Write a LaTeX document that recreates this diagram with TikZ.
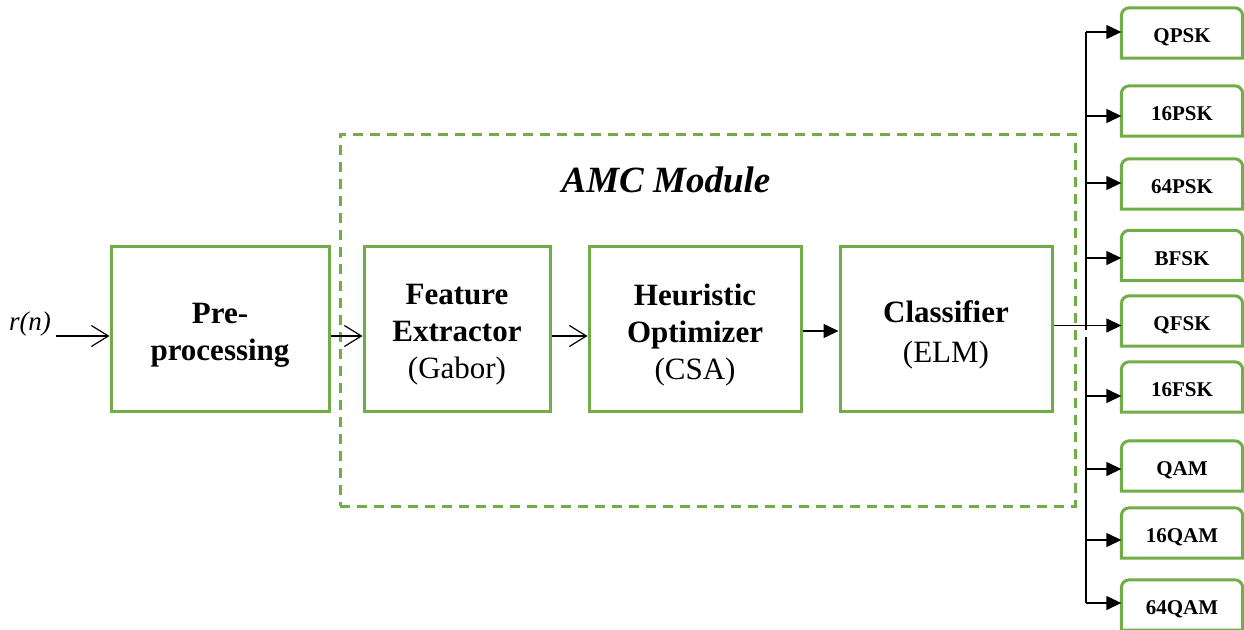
\documentclass[tikz,border=0pt]{standalone}
\usepackage{fontspec}
\setmainfont{Liberation Serif}
\usetikzlibrary{arrows.meta}
\definecolor{boxgreen}{RGB}{112,173,71}
\tikzset{
  blockbox/.style={draw=boxgreen, line width=3pt, inner sep=0pt, minimum height=165pt},
  blocktext/.style={inner sep=0pt, align=center, font=\fontsize{31}{37}\selectfont},
  outlabel/.style={inner sep=0pt, minimum width=121pt, minimum height=50pt,
    text height=19pt, text depth=0pt,
    font=\fontsize{21}{24}\selectfont\bfseries},
  tabline/.style={draw=boxgreen, line width=3pt},
  modframe/.style={draw=boxgreen, line width=3pt, dash pattern=on 10pt off 7pt},
  openarrow/.style={line width=1.2pt, -{Straight Barb[length=17pt,width=21pt,line width=1.2pt]}},
  solidarrow/.style={line width=1.4pt, -{Triangle[length=15pt,width=14pt]}},
  busline/.style={line width=1.4pt}
}
\begin{document}
\begin{tikzpicture}[x=1pt,y=-1pt]
\useasboundingbox (0,0) rectangle (1244,629);

% AMC module frame and title
\node[modframe, minimum width=735pt, minimum height=372pt, inner sep=0pt] (amc) at (707.5,320) {};
\node[font=\fontsize{37}{40}\selectfont\bfseries\itshape] (amctitle) at (666,180) {AMC Module};

% processing chain: frames
\node[blockbox, minimum width=218pt] (pre) at (220,328.5) {};
\node[blockbox, minimum width=186pt] (fe) at (457,328.5) {};
\node[blockbox, minimum width=212pt] (ho) at (695,328.5) {};
\node[blockbox, minimum width=212pt] (cls) at (946,328.5) {};
% processing chain: captions
\node[blocktext] (pretext) at ([yshift=-6.5pt]pre.center) {\bfseries Pre-\\\bfseries processing};
\node[blocktext] (fetext) at ([yshift=-6.5pt]fe.center) {\bfseries Feature\\\bfseries Extractor\\(Gabor)};
\node[blocktext] (hotext) at ([yshift=-6.5pt]ho.center) {\bfseries Heuristic\\\bfseries Optimizer\\(CSA)};
\node[blocktext] (clstext) at ([yshift=-6.5pt]cls.center) {\bfseries Classifier\\[3pt](ELM)};

% input signal
\node[font=\fontsize{27}{30}\selectfont\itshape] (rn) at (30,324) {r(n)};
\coordinate (rin) at (56,336);
\draw[openarrow] (rin) -- (rin -| pre.west);
\draw[openarrow] (pre.east |- rin) -- (fe.west |- rin);
\draw[openarrow] (fe.east |- rin) -- (ho.west |- rin);
\draw[solidarrow] ([yshift=-2.5pt]ho.east) -- ([yshift=-2.5pt]cls.west);

% modulation classes
\node[outlabel] (qpsk)  at (1182,33)   {QPSK};
\node[outlabel] (psk16) at (1182,111)  {16PSK};
\node[outlabel] (psk64) at (1182,184)  {64PSK};
\node[outlabel] (bfsk)  at (1182,255.5){BFSK};
\node[outlabel] (qfsk)  at (1182,321)  {QFSK};
\node[outlabel] (fsk16) at (1182,387)  {16FSK};
\node[outlabel] (qam)   at (1182,466)  {QAM};
\node[outlabel] (qam16) at (1182,533)  {16QAM};
\node[outlabel] (qam64) at (1182,605)  {64QAM};
\foreach \n in {qpsk,psk16,psk64,bfsk,qfsk,fsk16,qam,qam16,qam64}
  \draw[tabline] (\n.south west) -- ([yshift=-8pt]\n.north west)
    arc[start angle=180,end angle=90,radius=8pt] -- ([xshift=-8pt]\n.north east)
    arc[start angle=90,end angle=0,radius=8pt] -- (\n.south east) -- cycle;

% distribution bus
\coordinate (b1) at (1086,32);
\coordinate (b2) at (1086,116);
\coordinate (b3) at (1086,183);
\coordinate (b4) at (1086,258);
\coordinate (b6) at (1086,396);
\coordinate (b7) at (1086,469);
\coordinate (b8) at (1086,540);
\coordinate (b9) at (1086,603);
\coordinate (gaptop) at (1086,330);
\coordinate (gapbot) at (1086,337);
\draw[busline] (b1) -- (gaptop);
\draw[busline] (gapbot) -- (b9);
\draw[solidarrow] ([yshift=3pt]cls.east) -- ([yshift=3pt]cls.east -| qfsk.west);
\draw[solidarrow] (b1) -- (b1 -| qpsk.west);
\draw[solidarrow] (b2) -- (b2 -| psk16.west);
\draw[solidarrow] (b3) -- (b3 -| psk64.west);
\draw[solidarrow] (b4) -- (b4 -| bfsk.west);
\draw[solidarrow] (b6) -- (b6 -| fsk16.west);
\draw[solidarrow] (b7) -- (b7 -| qam.west);
\draw[solidarrow] (b8) -- (b8 -| qam16.west);
\draw[solidarrow] (b9) -- (b9 -| qam64.west);
\end{tikzpicture}
\end{document}
